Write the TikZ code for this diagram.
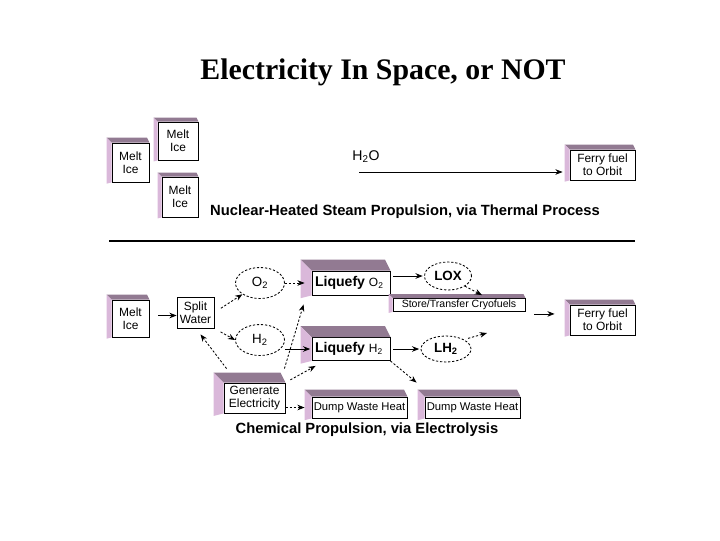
\documentclass[tikz,border=0pt]{standalone}
\usepackage{fontspec}
\setmainfont{Liberation Serif}
\setsansfont{Liberation Sans}
\usetikzlibrary{arrows.meta, calc, shapes.geometric}

\definecolor{slabtop}{RGB}{146,122,146}
\definecolor{slabside}{RGB}{218,184,218}

\tikzset{
  boxsize/.style 2 args={minimum width=#1*0.025cm, minimum height=#2*0.025cm},
  slab/.style={draw, fill=white, inner sep=0pt, align=center, font=\sffamily\fontsize{8.5}{9.5}\selectfont},
  gas/.style={ellipse, draw, dash pattern=on 1.6pt off 1.3pt, inner sep=0pt, font=\sffamily\fontsize{9.5}{11}\selectfont},
  flow/.style={->, dash pattern=on 1.6pt off 1.3pt},
  caption/.style={font=\sffamily\bfseries\fontsize{10.5}{12}\selectfont}
}

% raised faces of a box: node name, depth (px)
\newcommand{\slabfaces}[2]{%
  \fill[slabtop] (#1.north west) -- ++(-#2,-#2) -- ($(#1.north east)+(-#2/2,-#2)$) -- (#1.north east) -- cycle;
  \fill[slabside] (#1.north west) -- ++(-#2,-#2) -- ($(#1.south west)+(-#2,#2/4)$) -- (#1.south west) -- cycle;
}

\begin{document}
\begin{tikzpicture}[x=0.025cm, y=-0.025cm, >={Stealth[length=1.8mm, width=1.4mm]}, line width=0.6pt]
  \useasboundingbox (0,0) rectangle (720,540);

  \node[font=\bfseries\fontsize{21.2}{25}\selectfont] (title) at (383,72) {Electricity In Space, or NOT};

  % ===== Nuclear-heated steam =====
  \node[slab, boxsize={37}{39}] (meltA) at (130.5,162.5) {Melt\\Ice}; \slabfaces{meltA}{5}
  \node[slab, boxsize={40}{38}] (meltB) at (178,141) {Melt\\Ice}; \slabfaces{meltB}{4}
  \node[slab, boxsize={36}{40}] (meltC) at (180,197) {Melt\\Ice}; \slabfaces{meltC}{4}
  \node[slab, boxsize={65}{30}] (ferryA) at (602.5,165) {Ferry fuel\\to Orbit}; \slabfaces{ferryA}{5}
  \coordinate (steam) at (359,172);
  \node[font=\sffamily\fontsize{10}{12}\selectfont] (h2o) at (366,157) {H\textsubscript{2}O};
  \draw[->, shorten >=5pt] (steam) -- (steam -| ferryA.west);
  \node[caption] (nuclear) at (405,212) {Nuclear-Heated Steam Propulsion, via Thermal Process};

  \draw[line width=1.5pt] (109,241) -- (635,241);

  % ===== Chemical / electrolysis =====
  \node[slab, boxsize={37}{37}] (meltD) at (130.5,318.5) {Melt\\Ice}; \slabfaces{meltD}{5}
  \node[slab, boxsize={37}{31}] (split) at (195.5,312.5) {Split\\Water};
  \node[gas, boxsize={49}{31}] (oxy) at (260,283) {O\textsubscript{2}};
  \node[gas, boxsize={49}{31}] (hyd) at (260,340) {H\textsubscript{2}};
  \node[slab, boxsize={78}{24}, text width=72*0.025cm, align=left] (liqO) at (351,283)
    {{\bfseries\fontsize{10}{12}\selectfont Liquefy} O\textsubscript{2}}; \slabfaces{liqO}{11}
  \node[slab, boxsize={78}{23}, text width=72*0.025cm, align=left] (liqH) at (351,349)
    {{\bfseries\fontsize{10}{12}\selectfont Liquefy} H\textsubscript{2}}; \slabfaces{liqH}{11}
  \node[gas, boxsize={47}{28}, font=\sffamily\bfseries\fontsize{9.5}{11}\selectfont] (lox) at (448,276) {LOX};
  \node[gas, boxsize={50}{26}, font=\sffamily\bfseries\fontsize{9.5}{11}\selectfont] (lh) at (446,349) {LH\textsubscript{2}};
  \node[slab, boxsize={132}{13}, font=\sffamily\fontsize{7.5}{8}\selectfont] (store) at (459,305) {Store/Transfer Cryofuels}; \slabfaces{store}{4}
  \node[slab, boxsize={65}{30}] (ferryB) at (602.5,320) {Ferry fuel\\to Orbit}; \slabfaces{ferryB}{5}
  \node[slab, boxsize={61}{30}] (gen) at (254.5,398) {Generate\\Electricity}; \slabfaces{gen}{10}
  \node[slab, boxsize={95}{21}, font=\sffamily\fontsize{8}{9}\selectfont] (dumpA) at (359.5,407.5) {Dump Waste Heat}; \slabfaces{dumpA}{7}
  \node[slab, boxsize={95}{21}, font=\sffamily\fontsize{8}{9}\selectfont] (dumpB) at (472.5,407.5) {Dump Waste Heat}; \slabfaces{dumpB}{7}
  \coordinate (lhend) at (487,333);

  \draw[->] ($(meltD.east)+(9,-3)$) -- ($(split.west)+(0,3)$);
  \draw[flow, shorten <=5.5pt] (split.east) -- (oxy.south west);
  \draw[flow, shorten <=5pt] (split.south east) -- (hyd.west);
  \draw[flow] ($(gen.north west)+(3,-14)$) -- ($(split.south)+(5,6)$);
  \draw[flow] ($(gen.north east)+(-1,-14)$) -- ($(liqO.south west)+(-8,9)$);
  \draw[flow, shorten <=4pt] (gen.north east) -- ($(liqH.south west)+(4,5)$);
  \draw[flow, shorten >=5pt] (gen.east |- dumpA) -- (dumpA.west);
  \draw[flow, shorten >=5pt] (oxy.east) -- (liqO.west);
  \draw[->, shorten >=1pt] (hyd.east |- liqH) -- (liqH.west);
  \draw[->, shorten <=2pt, shorten >=1pt] (liqO.east |- lox) -- (lox.west);
  \draw[->, shorten <=2pt, shorten >=1pt] (liqH.east) -- (lh.west);
  \draw[flow] (lox.south east) -- ($(store.north)+(23,-3)$);
  \draw[flow, shorten <=3pt] (lh.north east) -- (lhend);
  \draw[flow] (liqH.south east) -- ($(dumpB.north west)+(-8,-14)$);
  \draw[->] ($(store.south east)+(9,2)$) -- ($(store.south east -| ferryB.west)+(-15,2)$);
  \node[caption] (chemical) at (367,430) {Chemical Propulsion, via Electrolysis};
\end{tikzpicture}
\end{document}
